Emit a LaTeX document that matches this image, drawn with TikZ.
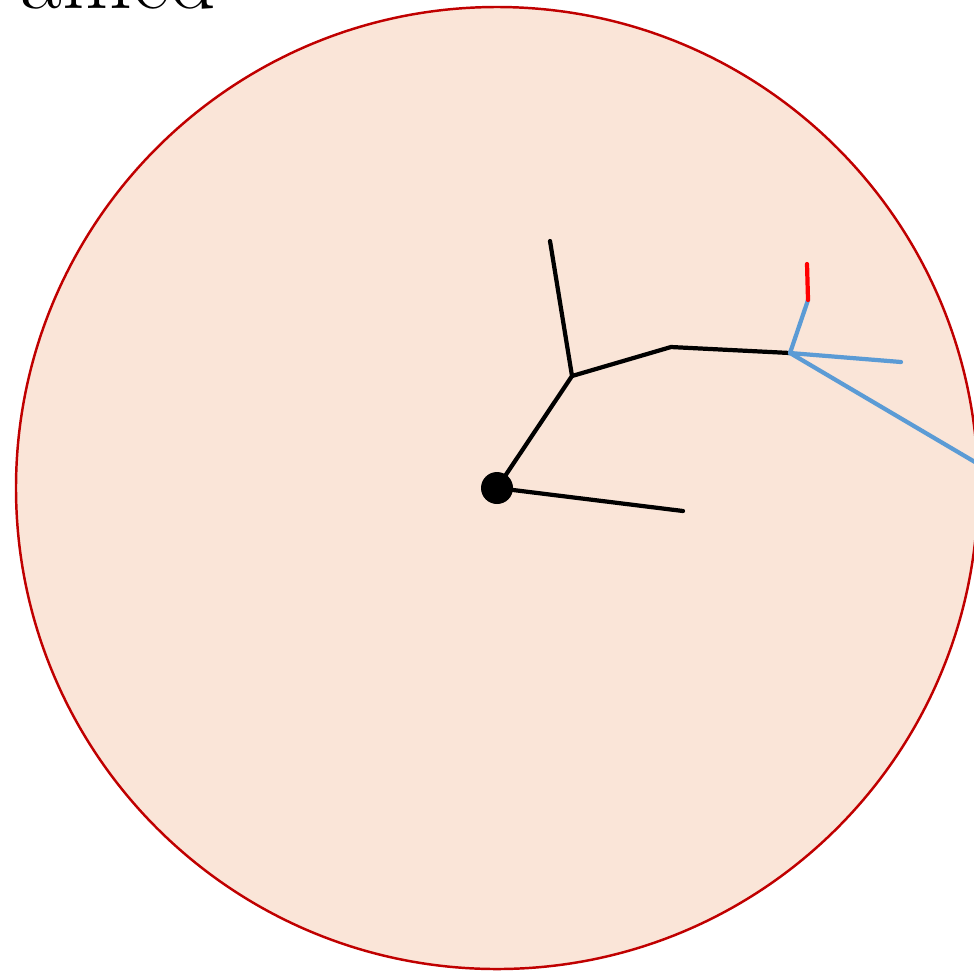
\documentclass[tikz,border=0pt]{standalone}
\usepackage{tikz}
\definecolor{peach}{RGB}{250,229,216}
\definecolor{rimred}{RGB}{192,0,0}
\definecolor{twigblue}{RGB}{91,155,213}
\begin{document}
\begin{tikzpicture}[x=0.01cm,y=-0.01cm,line cap=round,
  branch/.style={line width=1.2pt,black},
  twig/.style={line width=1.2pt,twigblue},
  tip/.style={line width=1.2pt,red}]
\useasboundingbox (0,0) rectangle (974,972);
\clip (0,0) rectangle (974,972);
% Kreisscheibe
\fill[peach] (497,488) circle (481);
\draw[rimred,line width=0.7pt] (497,488) circle (481);
% Titel (abgeschnitten)
\node[anchor=base east,inner sep=0pt,font=\fontsize{26}{30}\selectfont] (title) at (217,8) {ained};
% Verzweigungspunkte
\coordinate (root) at (497,488);
\coordinate (fork) at (572,376);
\coordinate (up) at (550,241);
\coordinate (bend) at (671,347);
\coordinate (knot) at (790,353);
\coordinate (low) at (683,511);
\coordinate (side) at (808,300);
\coordinate (redtip) at (807,264);
\coordinate (right) at (901,362);
\coordinate (edge) at (980,465);
% schwarze Äste
\draw[branch] (root) -- (fork) -- (up);
\draw[branch] (fork) -- (bend) -- (knot);
\draw[branch] (root) -- (low);
% blaue Zweige
\draw[twig] (knot) -- (side);
\draw[twig] (knot) -- (right);
\draw[twig] (knot) -- (edge);
\draw[tip] (side) -- (redtip);
\fill (root) circle (16);
\end{tikzpicture}
\end{document}
